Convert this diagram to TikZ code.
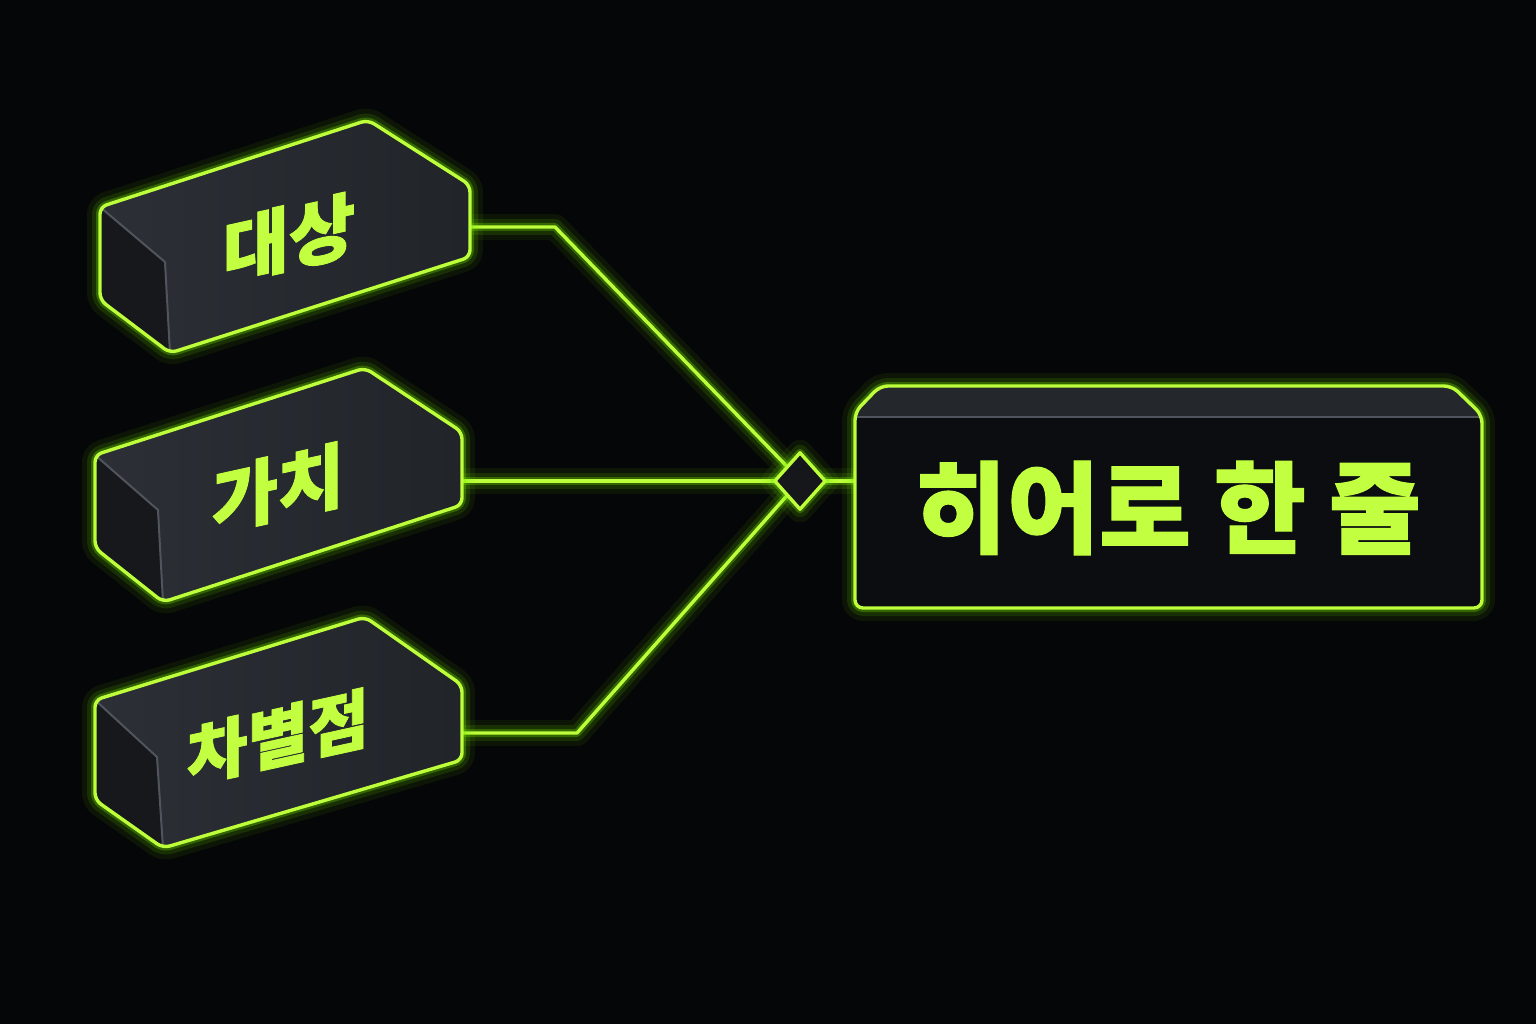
\documentclass[tikz,border=0pt]{standalone}
\usepackage{fontspec}
\newfontfamily\kr{Noto Sans CJK KR}[BoldFeatures={FakeBold=1.2}]
\usetikzlibrary{shapes.geometric}
\definecolor{bg}{HTML}{050607}
\definecolor{lime}{HTML}{BDFF3A}
\definecolor{glowc}{HTML}{72E600}
\definecolor{txt}{HTML}{C2FF40}
\definecolor{topL}{HTML}{2C2F35}
\definecolor{topR}{HTML}{212429}
\definecolor{endf}{HTML}{16181C}
\definecolor{edgeg}{HTML}{50545C}
\definecolor{front}{HTML}{0B0D10}
\definecolor{band}{HTML}{24272C}
\definecolor{jfill}{HTML}{15171A}
\newcommand\glowit[1]{%
  \draw[glowc, draw opacity=.07, line width=26pt, line join=round, line cap=round] #1;
  \draw[glowc, draw opacity=.13, line width=16pt, line join=round, line cap=round] #1;
  \draw[glowc, draw opacity=.3, line width=8pt, line join=round, line cap=round] #1;}
\newcommand\crisp[1]{\draw[lime, line width=3.4pt, line join=round, line cap=round] #1;}
\newcommand\drawlbox[1]{%
  \glowit{[rounded corners=7pt] (#1A) -- (#1B) -- (#1C) -- (#1D) -- (#1E) -- (#1F) -- cycle}
  \shade[left color=topL, right color=topR, rounded corners=7pt] (#1A) -- (#1B) -- (#1C) -- (#1D) -- (#1E) -- (#1F) -- cycle;
  \fill[endf, rounded corners=5pt] (#1A) -- (#1G) -- (#1E) -- (#1F) -- cycle;
  \draw[edgeg, line width=2pt] (#1A) -- (#1G) -- (#1E);
  \crisp{[rounded corners=7pt] (#1A) -- (#1B) -- (#1C) -- (#1D) -- (#1E) -- (#1F) -- cycle}}
\tikzset{
  lbl/.style={text=txt, font=\kr\bfseries\fontsize{72}{76}\selectfont, inner sep=0pt},
  herotext/.style={text=txt, font=\kr\bfseries\fontsize{100}{104}\selectfont, inner sep=0pt},
  junction/.style={diamond, minimum width=50pt, minimum height=56pt, inner sep=0pt}
}
\begin{document}
\begin{tikzpicture}[x=1pt,y=-1pt]
\useasboundingbox (0,0) rectangle (1536,1024);
\fill[bg] (0,0) rectangle (1536,1024);
% box 1
\coordinate (b1A) at (100,207); \coordinate (b1B) at (368,120); \coordinate (b1C) at (470,185);
\coordinate (b1D) at (470,257); \coordinate (b1E) at (170,353); \coordinate (b1F) at (100,300);
\coordinate (b1G) at (165,262); \coordinate (p1) at (470,227);
% box 2
\coordinate (b2A) at (95,455); \coordinate (b2B) at (365,368); \coordinate (b2C) at (462,432);
\coordinate (b2D) at (462,505); \coordinate (b2E) at (163,602); \coordinate (b2F) at (95,548);
\coordinate (b2G) at (158,510); \coordinate (p2) at (462,481);
% box 3
\coordinate (b3A) at (95,700); \coordinate (b3B) at (365,617); \coordinate (b3C) at (462,685);
\coordinate (b3D) at (462,760); \coordinate (b3E) at (163,848); \coordinate (b3F) at (95,800);
\coordinate (b3G) at (157,757); \coordinate (p3) at (462,733);
% knees
\coordinate (k1) at (555,227); \coordinate (k3) at (577,733);
% junction
\node[junction] (jn) at (800,481) {};
% hero box
\coordinate (h1) at (855,412); \coordinate (h2) at (880,386); \coordinate (h3) at (1452,386);
\coordinate (h4) at (1482,415); \coordinate (h5) at (1482,608); \coordinate (h6) at (855,608);
\coordinate (hl) at (855,481);
\coordinate (bl) at (857,417); \coordinate (br) at (1480,417);

% connectors
\glowit{(p1) -- (k1) -- (jn.north west)}
\glowit{(p2) -- (jn.west)}
\glowit{(p3) -- (k3) -- (jn.south west)}
\glowit{(jn.east) -- (hl)}
\crisp{(p1) -- (k1) -- (jn.north west)}
\crisp{(p2) -- (jn.west)}
\crisp{(p3) -- (k3) -- (jn.south west)}
\crisp{(jn.east) -- (hl)}

% left boxes
\drawlbox{b1}
\drawlbox{b2}
\drawlbox{b3}

% junction diamond
\glowit{(jn.north) -- (jn.east) -- (jn.south) -- (jn.west) -- cycle}
\fill[jfill] (jn.north) -- (jn.east) -- (jn.south) -- (jn.west) -- cycle;
\crisp{(jn.north) -- (jn.east) -- (jn.south) -- (jn.west) -- cycle}

% hero box
\glowit{[rounded corners=8pt] (h1) -- (h2) -- (h3) -- (h4) -- (h5) -- (h6) -- cycle}
\fill[front, rounded corners=8pt] (h1) -- (h2) -- (h3) -- (h4) -- (h5) -- (h6) -- cycle;
\fill[band, rounded corners=4pt] (h1) -- (h2) -- (h3) -- (h4) -- (br) -- (bl) -- cycle;
\draw[edgeg, line width=2pt] (bl) -- (br);
\crisp{[rounded corners=8pt] (h1) -- (h2) -- (h3) -- (h4) -- (h5) -- (h6) -- cycle}

% labels
\begin{scope}[shift={(289,238)}]
  \node[lbl, yslant=0.22, transform shape] (t1) {대상};
\end{scope}
\begin{scope}[shift={(278,488)}]
  \node[lbl, yslant=0.22, transform shape] (t2) {가치};
\end{scope}
\begin{scope}[shift={(278,737)}]
  \node[lbl, yslant=0.22, transform shape, font=\kr\bfseries\fontsize{66}{70}\selectfont] (t3) {차별점};
\end{scope}
\node[herotext] (hero) at (1168,508) {히어로 한 줄};
\end{tikzpicture}
\end{document}
